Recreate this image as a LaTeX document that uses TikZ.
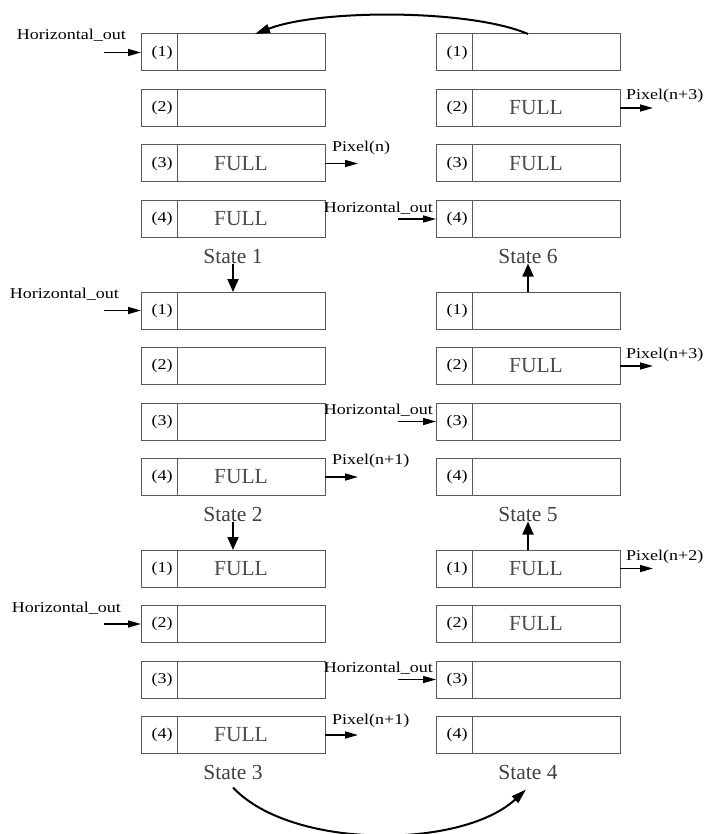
\documentclass[tikz,border=0pt]{standalone}
\usepackage{fontspec}
\setmainfont{Liberation Serif}
\newfontfamily\lblfont[FakeStretch=1.2]{Liberation Serif}
\usetikzlibrary{positioning}
\usetikzlibrary{arrows.meta}
\usetikzlibrary{calc}

\begin{document}
\begin{tikzpicture}[x=1pt,y=-1pt,
			idx/.style={draw=black!65,line width=1pt,minimum width=36pt,minimum height=37pt,
				inner sep=0pt,outer sep=0pt,anchor=north west,
				font=\lblfont\fontsize{15}{15}\selectfont,execute at begin node=\kern6pt},
			cell/.style={draw=black!65,line width=1pt,minimum width=148pt,minimum height=37pt,
				inner sep=0pt,outer sep=0pt,text=black!70,
				font=\fontsize{21.5}{21.5}\selectfont,execute at end node=\kern20pt},
			lbl/.style={inner sep=0pt,font=\lblfont\fontsize{15}{15}\selectfont},
			statelbl/.style={inner sep=0pt,anchor=base,text=black!75,font=\fontsize{21.5}{21.5}\selectfont},
			io/.style={line width=1.5pt,-{Triangle[length=13pt,width=7pt]}},
			move/.style={line width=1.8pt,-{Triangle[length=13pt,width=11pt]}},
			bigarc/.style={line width=2pt,-{Triangle[length=15pt,width=9pt]}}]
		\useasboundingbox (0,0) rectangle (708,834);
		\foreach \s/\x/\y/\ta/\tb/\tc/\td in {1/141/34/{}/{}/FULL/FULL,2/141/292/{}/{}/{}/FULL,
			3/141/550/FULL/{}/{}/FULL,6/436/34/{}/FULL/FULL/{},5/436/292/{}/FULL/{}/{},4/436/550/FULL/FULL/{}/{}}{
			\foreach \r/\t in {1/\ta,2/\tb,3/\tc,4/\td}{
				\node[idx] (s\s i\r) at (\x,{\y+(\r-1)*55.5}) {(\r)};
				\node[cell,right=0pt of s\s i\r] (s\s c\r) {\t};
			}
			\node[statelbl] (st\s) at ([xshift=-18pt,yshift=-26pt]s\s c4.south) {State \s};
		}
		\draw[move] (st1.base) -- (st1.base |- s2c1.north);
		\draw[move] (st2.base) -- (st2.base |- s3c1.north);
		\draw[move] (st5.base |- s4c1.north) -- (st5.base);
		\draw[move] (st6.base |- s5c1.north) -- (st6.base);
		\draw[bigarc] ([xshift=-18pt]s6c1.north) .. controls +(-58,-25) and +(65,-25) .. ([xshift=4pt]s1c1.north);
		\draw[bigarc] ([yshift=-8pt]st3.base) .. controls +(58,62) and +(-65,60) .. ([yshift=-10pt,xshift=-2pt]st4.base);
		\foreach \b/\dx/\tx/\ty in {s1i1/37/15/13,s2i1/37/22/12,s3i2/37/20/12,s6i4/38/3/7,s5i3/38/3/7,s4i3/38/3/7}{
			\coordinate (hin\b) at ([xshift=-\dx pt]\b.west);
			\draw[io] (hin\b) -- (\b);
			\node[lbl,anchor=base east] (hl\b) at ([xshift=-\tx pt,yshift=\ty pt]\b.west) {Horizontal\_out};
		}
		\foreach \b/\t/\tx/\ty in {s1c3/n/7/12,s2c4/n+1/7/13,s3c4/n+1/7/11,s6c2/n+3/6/8,s5c2/n+3/6/8,s4c1/n+2/6/8}{
			\coordinate (pout\b) at ([xshift=33pt]\b.east);
			\draw[io] (\b) -- (pout\b);
			\node[lbl,anchor=base west] (pl\b) at ([xshift=\tx pt,yshift=\ty pt]\b.east) {Pixel(\t)};
		}
\end{tikzpicture}
\end{document}
